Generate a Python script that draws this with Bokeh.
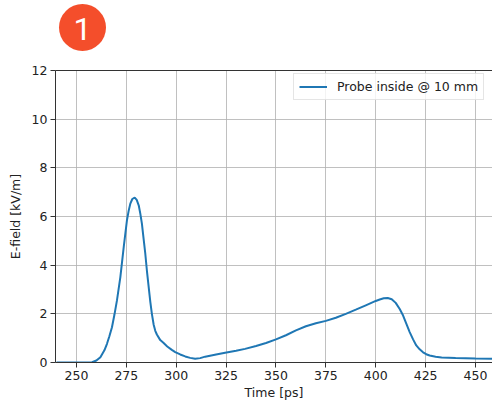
from bokeh.plotting import figure
from bokeh.layouts import column
from bokeh.models import Range1d, LinearAxis, FixedTicker, Legend, LegendItem
from bokeh.embed import file_html
from bokeh.resources import INLINE

# Probe signal: time [ps] and E-field [kV/m]
time_ps = [240, 250, 255, 257.8, 260, 262, 264, 265.3, 266.5, 267.8, 269, 270.3, 272,
           273.7, 275.3, 276.2, 277, 278, 279.2, 280.2, 281.2, 282, 282.8, 283.6, 284.5,
           285.3, 286.2, 287, 287.8, 288.7, 289.5, 290.3, 292, 293.7, 295.5, 297.8, 299.5,
           302, 304.5, 307, 309.5, 312, 314.5, 320, 324.5, 330, 334.5, 340, 345, 350,
           355, 360, 365, 370, 375, 380, 385, 390, 395, 400, 402, 404, 406, 408, 410,
           412, 413.7, 415.3, 417, 418.7, 420.3, 422, 423.7, 425.3, 427, 430, 433, 440,
           450, 460]
efield = [0.0, 0.0, 0.0, 0.01, 0.08, 0.22, 0.5, 0.77, 1.08, 1.45, 1.95, 2.55, 3.51,
          4.75, 5.84, 6.25, 6.53, 6.72, 6.78, 6.68, 6.46, 6.12, 5.71, 5.12, 4.47,
          3.78, 3.1, 2.5, 2.0, 1.55, 1.3, 1.15, 0.92, 0.8, 0.66, 0.52, 0.43,
          0.33, 0.25, 0.19, 0.15, 0.18, 0.24, 0.33, 0.4, 0.48, 0.56, 0.68, 0.8, 0.95,
          1.12, 1.32, 1.49, 1.61, 1.71, 1.84, 2.0, 2.17, 2.35, 2.53, 2.59, 2.64, 2.65, 2.6, 2.45,
          2.2, 1.93, 1.6, 1.25, 0.95, 0.7, 0.54, 0.42, 0.34, 0.29, 0.24, 0.21, 0.18,
          0.16, 0.15]

x_ticks = [250, 275, 300, 325, 350, 375, 400, 425, 450]
y_ticks = [0, 2, 4, 6, 8, 10, 12]
series_label = "Probe inside @ 10 mm"
badge_text = "1"

FONT = "DejaVu Sans"
FS = "12.5px"
TXT = "#222222"
LEFT = 55

# Numbered badge strip above the chart (frame shares the chart's left edge,
# so the x range is laid out in page pixels)
badge = figure(width=492, height=62, x_range=Range1d(LEFT, 492), y_range=Range1d(0, 62),
               output_backend="svg", toolbar_location=None,
               min_border_left=LEFT, min_border_right=0, min_border_top=0, min_border_bottom=0)
badge.axis.visible = False
badge.grid.visible = False
badge.outline_line_color = None
badge.circle(x=[82], y=[35], radius=23.5, fill_color="#F44E2B", line_color=None)
badge.text(x=[82], y=[34], text=[badge_text], text_align="center", text_baseline="middle",
           text_color="white", text_font_size="32px", text_font={"value": "Roboto"})

# Main chart
p = figure(width=492, height=342, x_range=Range1d(239.5, 458.5), y_range=Range1d(0, 12),
           output_backend="svg", toolbar_location=None,
           min_border_left=LEFT, min_border_right=0, min_border_top=8, min_border_bottom=42)
p.outline_line_color = None

line = p.line(time_ps, efield, line_color="#1f77b4", line_width=2)

for ax in (p.xaxis[0], p.yaxis[0]):
    ax.axis_line_color = "#333333"
    ax.axis_line_width = 1
    ax.major_tick_line_color = "#333333"
    ax.major_tick_out = 5
    ax.major_tick_in = 0
    ax.minor_tick_line_color = None
    ax.major_label_text_font = FONT
    ax.major_label_text_font_size = FS
    ax.major_label_text_color = TXT
    ax.axis_label_text_font = FONT
    ax.axis_label_text_font_size = FS
    ax.axis_label_text_font_style = "normal"
    ax.axis_label_text_color = TXT
    ax.major_label_standoff = 3

p.xaxis.ticker = FixedTicker(ticks=x_ticks)
p.yaxis.ticker = FixedTicker(ticks=y_ticks)
p.xaxis.axis_label = "Time [ps]"
p.yaxis.axis_label = "E-field [kV/m]"
p.xaxis.axis_label_standoff = 2
p.yaxis.axis_label_standoff = 6

# Top spine
top = LinearAxis(ticker=FixedTicker(ticks=[]), major_tick_out=0, major_tick_in=0,
                 minor_tick_line_color=None, major_label_text_font_size="0px",
                 major_label_standoff=0, axis_line_color="#333333")
p.add_layout(top, "above")

p.xgrid.grid_line_color = "#b0b0b0"
p.ygrid.grid_line_color = "#b0b0b0"
p.xgrid.grid_line_width = 1
p.ygrid.grid_line_width = 1
p.xgrid.grid_line_alpha = 0.8
p.ygrid.grid_line_alpha = 0.8

legend = Legend(items=[LegendItem(label=series_label, renderers=[line])],
                location=(238, 262), padding=5, margin=0, spacing=0,
                glyph_width=28, glyph_height=13, label_height=13, label_standoff=10,
                label_text_font=FONT, label_text_font_size=FS, label_text_color=TXT,
                border_line_color="#cccccc", border_line_width=1,
                background_fill_color="white", background_fill_alpha=0.8)
p.add_layout(legend, "center")

layout = column(badge, p, spacing=0)
open("out.html", "w").write(file_html(layout, INLINE))
